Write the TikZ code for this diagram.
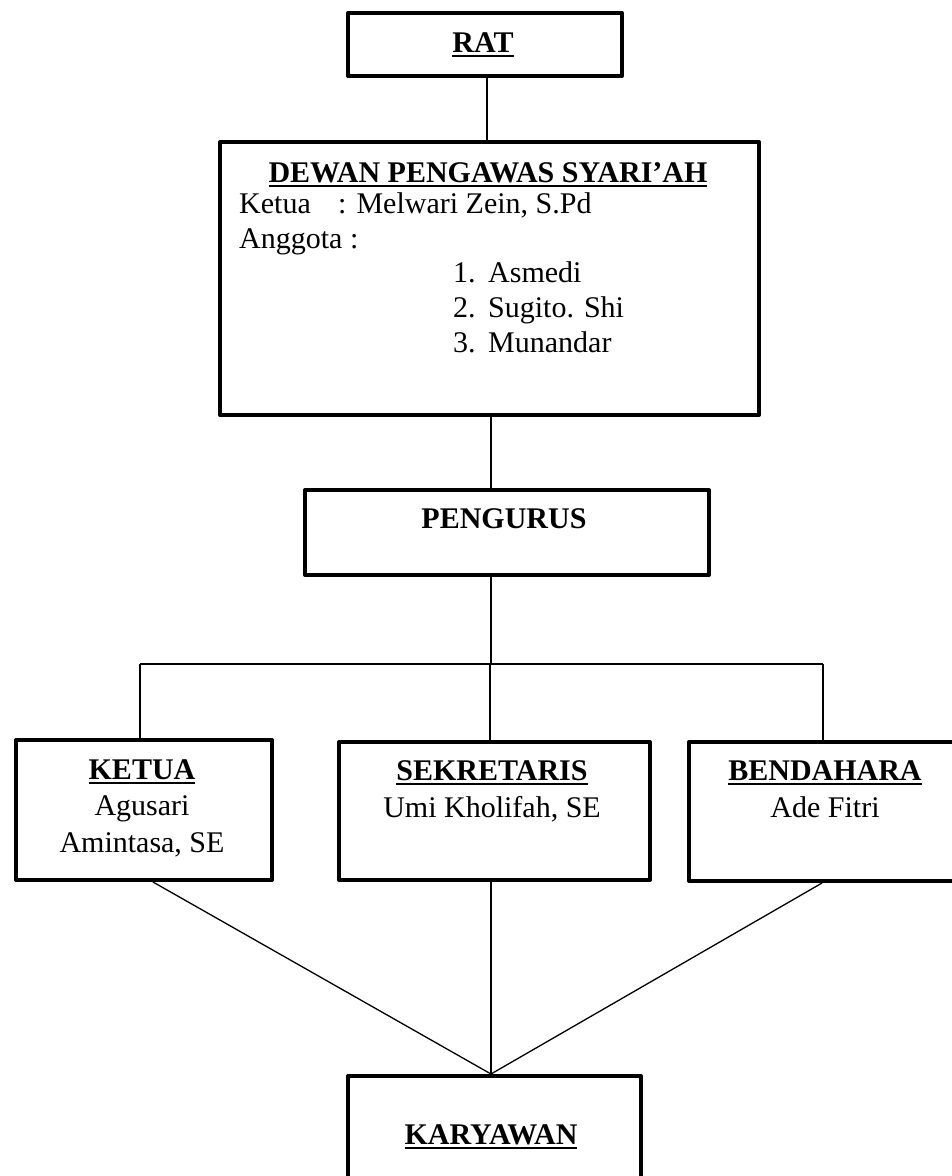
\documentclass[tikz,border=0pt]{standalone}
\usepackage{fontspec}
\setmainfont{Liberation Serif}
\usetikzlibrary{calc}
\newcommand{\myul}[1]{\setbox0\hbox{#1}\rlap{\rule[-5pt]{\wd0}{2.4pt}}\box0}
\begin{document}
\begin{tikzpicture}[x=1pt,y=-1pt,
  box/.style={draw,line width=4pt,line join=round,inner sep=0pt,anchor=north west,rectangle},
  link/.style={line width=1.3pt},
  txt/.style={anchor=base,inner sep=0pt,font=\fontsize{30}{35}\selectfont},
  ltxt/.style={anchor=base west,inner sep=0pt,font=\fontsize{30}{35}\selectfont}]
\useasboundingbox (0,0) rectangle (952,1176);
% boxes
\node[box,minimum width=274pt,minimum height=63pt] (rat) at (346,11) {};
\node[box,minimum width=539pt,minimum height=273pt] (dps) at (218,140) {};
\node[box,minimum width=404pt,minimum height=85pt] (peng) at (303,488) {};
\node[box,minimum width=256pt,minimum height=140pt] (ketua) at (14,738) {};
\node[box,minimum width=311pt,minimum height=138pt] (sek) at (337,740) {};
\node[box,minimum width=273pt,minimum height=139pt] (bend) at (687,740) {};
\node[box,minimum width=293pt,minimum height=150pt] (kary) at (346,1074) {};
% connector helper coordinates
\coordinate (x1) at (487,0);
\coordinate (x2) at (491,0);
\coordinate (j) at (491,664);
\coordinate (jl) at (140,664);
\coordinate (jm) at (490,664);
\coordinate (jr) at (823,664);
\coordinate (kb) at (153,0);
\coordinate (bb) at (822,0);
% connectors
\draw[link] (rat.south -| x1) -- (dps.north -| x1);
\draw[link] (dps.south -| x2) -- (peng.north -| x2);
\draw[link] (peng.south -| j) -- (j);
\draw[link] (jl) -- (jr);
\draw[link] (jl) -- (ketua.north -| jl);
\draw[link] (jm) -- (sek.north -| jm);
\draw[link] (jr) -- (bend.north -| jr);
\draw[link] (ketua.south -| kb) -- (kary.north -| x2);
\draw[link] (sek.south -| x2) -- (kary.north -| x2);
\draw[link] (bend.south -| bb) -- (kary.north -| x2);
% texts
\node[txt] (tRat) at (483,52) {\bfseries\myul{RAT}};
\node[txt] (tDps) at (488,182) {\bfseries\myul{DEWAN PENGAWAS SYARI’AH}};
\node[ltxt] (tDk) at (239,213) {Ketua};
\node[ltxt] (tDkv) at (338,213) {: Melwari Zein, S.Pd};
\node[ltxt] (tDa) at (239,248) {Anggota :};
\node[ltxt] (n1) at (453,282) {1.};
\node[ltxt] (m1) at (488,282) {Asmedi};
\node[ltxt] (n2) at (453,317) {2.};
\node[ltxt] (m2) at (488,317) {Sugito. Shi};
\node[ltxt] (n3) at (453,352) {3.};
\node[ltxt] (m3) at (488,352) {Munandar};
\node[txt] (tPeng) at (504,528) {\bfseries PENGURUS};
\node[txt] (tKet) at (142,779) {\bfseries\myul{KETUA}};
\node[txt] (tKet1) at (142,815) {Agusari};
\node[txt] (tKet2) at (142,852) {Amintasa, SE};
\node[txt] (tSek) at (492,780) {\bfseries\myul{SEKRETARIS}};
\node[txt] (tSek1) at (492,817) {Umi Kholifah, SE};
\node[txt] (tBen) at (825,780) {\bfseries\myul{BENDAHARA}};
\node[txt] (tBen1) at (825,817) {Ade Fitri};
\node[txt] (tKar) at (491,1144) {\bfseries\myul{KARYAWAN}};
\end{tikzpicture}
\end{document}
